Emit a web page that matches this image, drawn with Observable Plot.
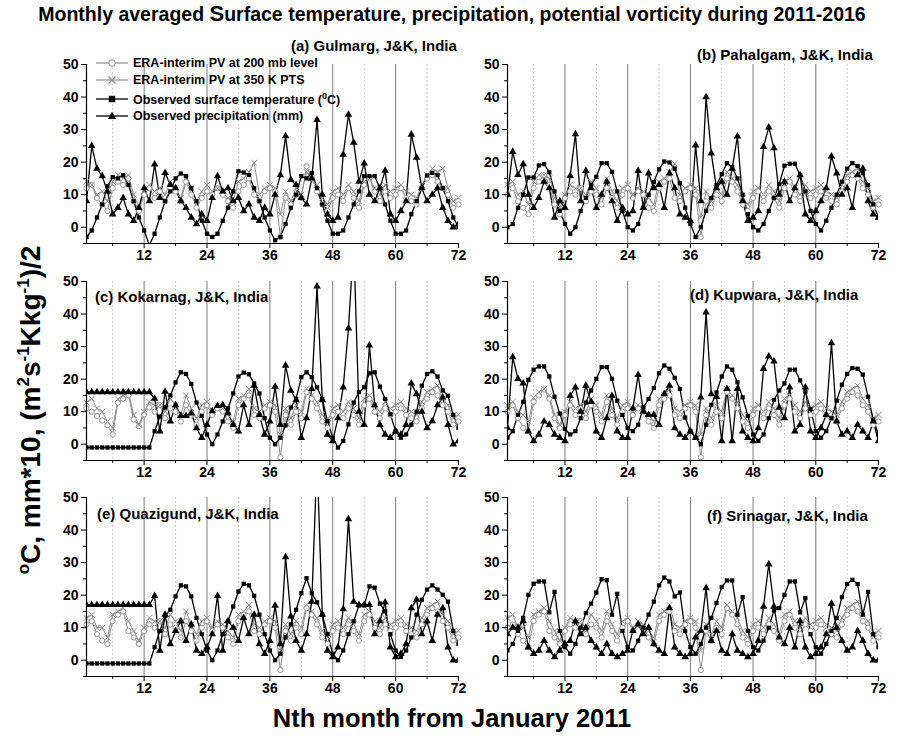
<!DOCTYPE html>
<html><head><meta charset="utf-8">
<script src="https://cdn.jsdelivr.net/npm/d3@7"></script>
<script src="https://cdn.jsdelivr.net/npm/@observablehq/plot@0.6"></script>
<style>
body{margin:0;background:#fff;font-family:"Liberation Sans",Arial,sans-serif;}
#wrap{position:relative;width:904px;height:736px;overflow:hidden;background:#fff;}
.abs{position:absolute;white-space:nowrap;font-weight:bold;color:#000;line-height:1;}
.leg{position:absolute;left:96px;white-space:nowrap;font-weight:bold;font-size:12.5px;display:flex;align-items:center;height:14px;}
.leg svg{margin-right:3px;}
</style></head><body><div id="wrap"></div>
<script>
// ---------- data ----------
const months = d3.range(1, 73);
const stationNames = ["(a) Gulmarg, J&K, India","(b) Pahalgam, J&K, India","(c) Kokarnag, J&K, India","(d) Kupwara, J&K, India","(e) Quazigund, J&K, India","(f) Srinagar, J&K, India"];
const seriesNames = ["ERA-interim PV at 200 mb level","ERA-interim PV at 350 K PTS","Observed surface temperature (","Observed precipitation (mm)"];
const xMajorTicks = [12,24,36,48,60,72];
const xMinorTicks = [6,18,30,42,54,66];
const yearLines = [12,24,36,48,60];
const halfYearLines = [6,18,30,42,54,66];
const yMajorTicks = [0,10,20,30,40,50];
const yMinorTicks = [-5,5,15,25,35,45];

// (a) Gulmarg
const gulmargTemp = [-3,-1,3,7,12.6,15.4,15,16,13,8,3,-1, -5.5,-2,3,8,11,15,16.5,15.7,12,8,2,-2, -3,-2,2,6,11,17.2,16.8,16,12,8,3,-1, -4,-3,1,6,10,15.7,15,16.7,12,7,2,-2, -2,-1,3,7,11,15.7,15.7,15.7,12,7,2,-2, -2,-1,4,8,12,15.9,16.7,16,12,8,3,0];
const gulmargPrecip = [8,25,18,15.7,11,4,6,9,4,2,6,12, 8,19.3,9,16.7,13,12,8,6,3,1,4,2, 9,15.7,11,12,8,9,5,7,3,2,6,4, 10,16,28,14.6,13,9,7,15,33,10,4,2, 3,22.3,34.6,26,14,19.6,10,8,12,17.4,4,2, 5,8,28.5,21.4,12,8,10,12,6,2,0,1];
const gulmargPV200 = [12,13,9,7,5,12,14,13,15,8,5,10, 12,9,11,8,12,11,8,14,10,6,9,11, 10,12,10,8,6,11,13,15,10,8,11,12, 11,-3,9,7,10,9,18.7,15,11,7,5,9, 10,8,12,9,6,13,15,11,8,11,9,10, 12,9,8,7,12,15,16,14,12,10,6,7];
const gulmargPV350 = [14,13,10,11,8,14,16,15,16,10,6,11, 13,11,12,10,14,12,9,15,12,8,11,13, 11,12,11,9,8,14,15,17,19.8,10,12,13, 12,4,11,8,12,10,17,15,13,9,7,11, 12,10,13,11,8,14,15,12,10,13,11,12, 13,11,10,9,13,16,18,17,18,12,8,9];
// (b) Pahalgam
const pahalgamTemp = [0,1,6,10,15.3,15.3,19,19.4,16.9,11,5,1, -2,0,5,9,13,15.5,19.7,19.7,17,11,5,0, -1,1,6,10,13.9,17.8,20.2,19.9,18,13.5,6,1, -3,0,5,9,13,16.3,19.7,18.4,15,10,4,0, -1,1,5,9,13.2,18.9,19.5,19.5,16,11,5,1, -1,2,6,10,14,18,19.7,18.8,16.6,13,7,3];
const pahalgamPrecip = [10,23.2,16.1,19.4,10,6,9,14,12,3,8,6, 15.8,28.6,8,17.3,12,6,10,14,8,2,6,4, 5,17.3,6,16.6,12,13,6,16.6,12,4,3,2, 25.2,8,40,22.7,12,14,10,18,27.9,8,2,3, 5,24.7,30.7,24.3,10,14,8,12,16,4,2,5, 8,12,21.8,16.6,10,12,6,16,18,8,4,3];
const pahalgamPV200 = [10,12,8,6,4,12,14,16,13,7,4,9, 11,10,12,8,11,10,7,12,9,6,10,12, 9,11,10,6,5,12,14,15,9,8,11,12, 10,-3,8,6,10,8,15,14,11,7,5,9, 11,8,11,9,6,12,14,10,8,11,9,10, 11,9,8,7,11,14,16,15,12,10,6,7];
const pahalgamPV350 = [13,14,10,11,7,14,16,16,15,9,6,10, 13,12,12,10,14,12,9,15,11,8,12,13, 10,12,11,9,7,14,15,17,19.5,10,12,13, 12,3,11,8,12,10,17,15,13,9,7,11, 12,10,13,11,8,14,15,12,10,13,11,12, 13,11,10,9,13,16,17,18,14,12,8,9];
// (c) Kokarnag
const kokarnagTemp = [-1,-1,-1,-1,-1,-1,-1,-1,-1,-1,-1,-1, -1,4,8.5,11.3,15,19,22.1,21.6,18.5,12.8,8.7,3, 0,3,7,11,15.6,20.8,22,21.5,18.7,15.6,8,2, 0,2,5.8,11.3,13.9,20.6,22.1,20.6,17.5,13.9,7.1,2, -1,1,6.1,12.8,16,17.5,21.8,22.1,17.7,13.9,9.2,4, 2,3,6,10,18,21.6,22.4,20.8,16.5,14.9,9,5];
const kokarnagPrecip = [16,16,16,16,16,16,16,16,16,16,16,16, 16,14,4,16.2,7,12,8.7,8.7,9.5,5,2,6, 10.2,11.8,12,9.6,6,4,12,6,18,9,3,7, 17.7,6,24.2,16.5,13.6,2,8,17,48.5,13.6,3,1, 8,17.5,35.6,62,10,6,30.4,12,6,3,2,4, 3,6,18.7,15.4,10,5,7.1,12,14.4,6,0,1];
const kokarnagPV200 = [11,10,8.7,7.3,5.8,3,12.8,14,15,7.6,5.5,9.2, 11.3,10,12,8,11,10,7,12,9,6,10,12, 9,11,10,7,5,12,14,15,9,8,11,12, 10,-4,9,6,10,8,16,14,11,7,5,9, 10,8,11,9,6,12,14,10,8,11,9,10, 11,9,8,7,11,14,16,15,12,10,6,7];
const kokarnagPV350 = [12.8,14,11,10,7,5,13.8,15,16,9,6,10, 13,12,12,10,14,12,9,15,11,8,12,13, 10,12,11,9,7,14,15,17,11,10,12,13, 12,3,11,8,12,10,17,15,13,9,7,11, 12,10,13,11,8,14,15,12,10,13,11,12, 13,11,10,9,13,16,17,18,14,12,8,9];
// (d) Kupwara
const kupwaraTemp = [2,4,9,13,19.8,22.9,23.9,23.9,20.8,14.6,9.4,4.7, 3,4,8,12.8,16.5,20.1,23.7,23.7,20.1,13.4,9,5, 4,6,11.3,13.9,17.3,21.8,24.2,23.2,20.4,17,8.2,4, 2,0,6,12.1,15.9,20.8,23.9,22.9,19,14.4,8.7,3, 1,3,8,13.6,16.5,18.7,22.9,22.9,19.6,16.2,10.8,4, 2,4,8,13.4,18.3,21.6,23.4,23.2,21.4,14.6,7.6,3];
const kupwaraPrecip = [5,26.8,20.1,18.7,4,1,3,7,6,3,2,1, 14.9,17.5,10,18,13,4,2,8,14.9,4,2,2, 11,21.3,10,9,9,6,15.5,18,5,3,2,4, 2,14.4,40.5,15.4,14.6,1,17,1,17,4,2,1, 5,23.2,27,25.5,11.3,8,17.5,4,6,17.5,4,2, 5,9,31.1,7,3,4,2,6,4,2,7,1];
const kupwaraPV200 = [10,12,8,5,4,13,15,16.8,14,8,5,9, 12,9,11,8,12,10,7,13,9,6,10,11, 9,11,10,7,5,12,14,15,9,8,11,12, 10,-4,9,6,10,8,16,14,11,7,5,9, 11,8,11,9,6,12,14,10,8,11,9,10, 11,9,8,7,11,14,16,15,12,10,6,7];
const kupwaraPV350 = [12,13,10,9,7,14.3,16,17,15,9,6,10, 13,11,12,10,14,12,9,15,11,8,12,13, 10,12,11,9,7,14,15,17,11,10,12,13, 12,3,11,8,12,10,17,15,13,9,7,11, 12,10,13,11,8,14,15,12,10,13,11,12, 13,11,10,9,13,16,17,18,14,12,8,9];
// (e) Quazigund
const quazigundTemp = [-1,-1,-1,-1,-1,-1,-1,-1,-1,-1,-1,-1, -1,4,9,13.7,15.5,19.6,23,22.7,19.6,13,8,3, 0,3,8,12,16.5,21.1,23.5,23,19.8,14,8,3, 0,2,7,11,15.5,20.6,25.2,20.6,17.8,14,8,2, 0,3,8,12,16.8,16.8,22.7,22.3,17.4,15,8,3, 1,3,7,14,18.6,21.7,23,21.7,20.1,18,9,5];
const quazigundPrecip = [17,17,17,17,17,17,17,17,17,17,17,17, 17,19.8,3,14,5,9,12,6,11,3,2,4, 8,19.8,3,12,10,6,13,8,14,5,2,6, 16.8,5,31.7,13.5,6,3,8,18,62,14,3,1, 4,15.7,43.4,18,17,17,17,8,12,17.8,4,1, 2,5,16,18.6,8,12,6,14,16,4,0,0];
const quazigundPV200 = [11,12,8,6,5,12,14,15,9,7,5,9, 11,10,12,8,11,10,7,12,9,6,10,12, 9,11,10,7,5,12,14,15,9,8,11,12, 10,-3,9,6,10,8,16,14,11,7,5,9, 10,8,11,9,6,12,14,10,8,11,9,10, 11,9,8,7,11,14,16,15,12,10,6,7];
const quazigundPV350 = [13,14,10,10,7,14,15,16,12,9,6,10, 13,12,12,10,14,12,9,15,11,8,12,13, 10,12,11,9,7,14,15,17,11,10,12,13, 12,3,11,8,12,10,17,15,13,9,7,11, 12,10,13,11,8,14,15,12,10,13,11,12, 13,11,10,9,13,16,17,18,14,12,8,9];
// (f) Srinagar
const srinagarTemp = [3,5,9,13,20.1,23.5,24.2,24.2,14.7,21,9,4, 2,5,10,14.5,17.4,20.8,24.9,24.6,14,20.4,9,4, 3,6,10,14,18,23,25.4,24.2,19.6,20.8,9,4, 2,5,10,13,17.6,22.5,24.5,24.5,14,19.4,9,4, 3,6,10,15.3,16,20.1,24.2,24.2,14.7,19.1,8,4, 2,5,9,13,19.4,23.4,24.7,23.4,14,21,8,4];
const srinagarPrecip = [8,10,10,12,4,2,3,6,3,1,3,5, 6,12,8,10,6,4,2,5,2,1,2,3, 9,11,8,10,5,3,2,16,4,2,1,2, 7,9,22.2,6,9,3,2,8,3,2,1,2, 6,16.5,29.5,16.5,7,5,10,4,12,4,1,2, 4,8,17.4,10,6,3,4,9,6,2,0,0];
const srinagarPV200 = [10,11,8,6,4,12,14,15,9,7,5,9, 11,10,12,8,11,10,7,12,9,6,10,12, 9,11,10,7,5,12,14,15,9,8,11,12, 10,-3,9,6,10,8,16,14,11,7,5,9, 10,8,11,9,6,12,14,10,8,11,9,10, 11,9,8,7,11,14,16,15,12,10,6,7];
const srinagarPV350 = [13,14,10,10,7,14,15,16,12,9,6,10, 13,12,12,10,14,12,9,15,11,8,12,13, 10,12,11,9,7,14,15,17,11,10,12,13, 12,3,11,8,12,10,17,15,13,9,7,11, 12,10,13,11,8,14,15,12,10,13,11,12, 13,11,10,9,13,16,17,18,14,12,8,9];

// ---------- layout ----------
const wrap = document.getElementById("wrap");
const panels = [
  {temp:gulmargTemp, precip:gulmargPrecip, pv200:gulmargPV200, pv350:gulmargPV350},
  {temp:pahalgamTemp, precip:pahalgamPrecip, pv200:pahalgamPV200, pv350:pahalgamPV350},
  {temp:kokarnagTemp, precip:kokarnagPrecip, pv200:kokarnagPV200, pv350:kokarnagPV350},
  {temp:kupwaraTemp, precip:kupwaraPrecip, pv200:kupwaraPV200, pv350:kupwaraPV350},
  {temp:quazigundTemp, precip:quazigundPrecip, pv200:quazigundPV200, pv350:quazigundPV350},
  {temp:srinagarTemp, precip:srinagarPrecip, pv200:srinagarPV200, pv350:srinagarPV350}
];
const chartTops = [52, 269, 485];
const grey = "#8c8c8c";

function addDiv(html, css, cls) {
  const d = document.createElement("div");
  d.className = cls || "abs";
  d.innerHTML = html;
  Object.assign(d.style, css);
  wrap.appendChild(d);
  return d;
}

panels.forEach((p, i) => {
  const col = i % 2, row = Math.floor(i / 2);
  const rows = months.map((m, k) => ({month: m, pv200: p.pv200[k], pv350: p.pv350[k], temp: p.temp[k], precip: p.precip[k]}));
  const svg = Plot.plot({
    width: col ? 424 : 480,
    height: 217,
    marginLeft: col ? 27 : 86,
    marginRight: col ? 26 : 22,
    marginTop: 12,
    marginBottom: 26,
    x: {domain: [1, 72], label: null},
    y: {domain: [-5, 50], label: null},
    style: {fontFamily: "'Liberation Sans', Arial, sans-serif", fontSize: "14px", fontWeight: "bold", overflow: "visible", background: "transparent", color: "#000"},
    marks: [
      Plot.ruleX(yearLines, {stroke: "#7a7a7a", strokeWidth: 1}),
      Plot.ruleX(halfYearLines, {stroke: "#b8b8b8", strokeWidth: 1, strokeDasharray: "1.5,2.5"}),
      Plot.line(rows, {x: "month", y: "pv200", stroke: grey, strokeWidth: 1}),
      Plot.line(rows, {x: "month", y: "pv350", stroke: grey, strokeWidth: 1}),
      Plot.line(rows, {x: "month", y: "temp", stroke: "#000", strokeWidth: 1.3, clip: true}),
      Plot.line(rows, {x: "month", y: "precip", stroke: "#000", strokeWidth: 1.3, clip: true}),
      Plot.dot(rows, {x: "month", y: "pv200", symbol: "circle", r: 2.6, stroke: grey, fill: "white", strokeWidth: 0.9}),
      Plot.dot(rows, {x: "month", y: "pv350", symbol: "times", r: 2.8, stroke: grey, strokeWidth: 1}),
      Plot.dot(rows, {x: "month", y: "temp", symbol: "square", r: 2.4, fill: "#000", stroke: "none", clip: true}),
      Plot.dot(rows, {x: "month", y: "precip", symbol: "triangle", r: 2.8, fill: "#000", stroke: "none", clip: true}),
      Plot.ruleX([1], {stroke: "#000", strokeWidth: 1.2}),
      Plot.ruleY([-5], {stroke: "#000", strokeWidth: 1.2}),
      Plot.axisY({ticks: yMajorTicks, tickSize: 5, tickPadding: 3, label: null}),
      Plot.axisY({ticks: yMinorTicks, tickSize: 3, tickFormat: () => "", label: null}),
      Plot.axisX({ticks: xMajorTicks, tickSize: 5, tickPadding: 2, label: null}),
      Plot.axisX({ticks: xMinorTicks, tickSize: 3, tickFormat: () => "", label: null})
    ]
  });
  svg.style.position = "absolute";
  svg.style.left = (col ? 480 : 0) + "px";
  svg.style.top = chartTops[row] + "px";
  wrap.appendChild(svg);
});

// titles
addDiv("Monthly averaged <span style='font-size:22px'>S</span>urface temperature, precipitation, potential vorticity during 2011-2016",
  {left: "0px", width: "904px", textAlign: "center", top: "3px", fontSize: "19.5px"});
const titlePos = [[291, 38], [697, 47], [95, 289], [690, 287], [97, 506], [707, 508]];
stationNames.forEach((t, i) => addDiv(t, {left: titlePos[i][0] + "px", top: titlePos[i][1] + "px", fontSize: "15px"}));

// axis titles
addDiv("Nth month from January 2011", {left: "0px", width: "904px", textAlign: "center", top: "706px", fontSize: "25.5px"});
addDiv("<sup style='font-size:17px'>o</sup>C, mm*10, (m<sup style='font-size:17px'>2</sup>s<sup style='font-size:17px'>-1</sup>Kkg<sup style='font-size:17px'>-1</sup>)/2",
  {left: "30px", top: "410px", fontSize: "28px", transform: "translate(-50%,-50%) rotate(-90deg)"});

// legend (in panel a)
const legendY = [56, 73, 92, 109];
const legendSym = [
  "<line x1='0' y1='7' x2='32' y2='7' stroke='#8c8c8c' stroke-width='1.2'/><circle cx='16' cy='7' r='3.3' fill='white' stroke='#8c8c8c'/>",
  "<line x1='0' y1='7' x2='32' y2='7' stroke='#8c8c8c' stroke-width='1.2'/><path d='M12.5,3.5L19.5,10.5M19.5,3.5L12.5,10.5' stroke='#8c8c8c' stroke-width='1.2'/>",
  "<line x1='0' y1='7' x2='32' y2='7' stroke='#000' stroke-width='1.3'/><rect x='12.8' y='3.8' width='6.4' height='6.4' fill='#000'/>",
  "<line x1='0' y1='7' x2='32' y2='7' stroke='#000' stroke-width='1.3'/><path d='M16,2.8L20,10L12,10Z' fill='#000'/>"
];
seriesNames.forEach((t, i) => {
  const label = i === 2 ? t + "<sup style='font-size:9px'>0</sup>C)" : t;
  addDiv("<svg width='34' height='14'>" + legendSym[i] + "</svg><span>" + label + "</span>", {top: legendY[i] + "px"}, "leg");
});
</script>
</body></html>
